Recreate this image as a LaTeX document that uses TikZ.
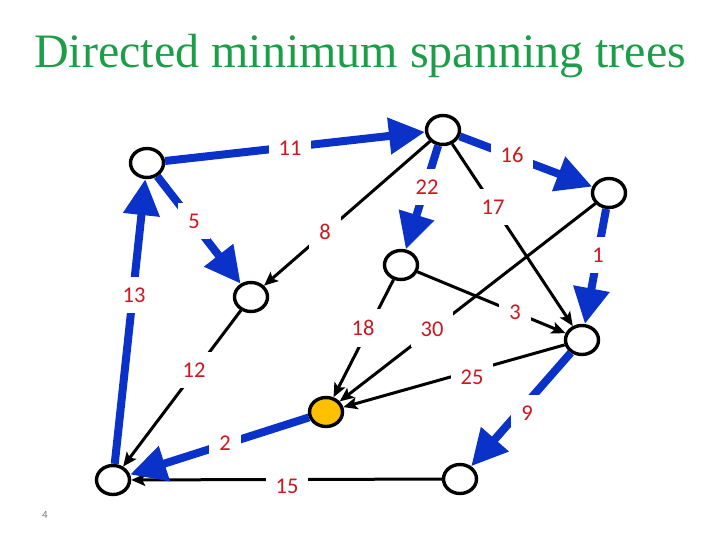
\documentclass[tikz,border=0pt]{standalone}
\usepackage{fontspec}
\setmainfont{Liberation Serif}
\newfontfamily\labfont{Carlito}
\usetikzlibrary{arrows.meta,shapes.geometric}
\definecolor{mstblue}{RGB}{10,50,200}
\definecolor{wtred}{RGB}{204,24,30}
\definecolor{titlegreen}{RGB}{28,158,72}
\definecolor{rootorange}{RGB}{255,192,0}
\definecolor{pagegrey}{RGB}{120,120,120}
\begin{document}
\begin{tikzpicture}[x=1pt,y=-1pt,
  vert/.style={ellipse,draw=black,line width=3.4pt,fill=white,minimum width=33pt,minimum height=29pt,inner sep=0pt},
  rootvert/.style={vert,fill=rootorange},
  tree/.style={draw=mstblue,line width=8pt,-{Triangle[length=36pt,width=35pt]}},
  cand/.style={draw=black,line width=3pt,-{Stealth[length=14pt,width=12pt,inset=3pt]}},
  wt/.style={fill=white,text=wtred,font=\labfont\fontsize{22.5}{22.5}\selectfont,inner xsep=10pt,inner ysep=11pt}]
\useasboundingbox (0,0) rectangle (720,540);
\node[anchor=base,text=titlegreen,font=\fontsize{48}{52}\selectfont,inner sep=0pt] (title) at (360,68) {Directed minimum spanning trees};
% vertices
\node[vert] (A) at (147,163) {};
\node[vert] (B) at (443,130) {};
\node[vert] (C) at (609,193) {};
\node[vert] (D) at (251,297) {};
\node[vert] (E) at (401,265) {};
\node[vert] (F) at (582,340) {};
\node[rootvert] (G) at (326,412) {};
\node[vert] (H) at (113,480) {};
\node[vert] (I) at (460,479) {};
% candidate edges
\draw[cand] (B) -- (D);
\draw[cand] (B) -- (F);
\draw[cand] (E) -- (F);
\draw[cand] (C) -- (G);
\draw[cand] (E) -- (G);
\draw[cand] (D) -- (H);
\draw[cand] (F) -- (G);
\draw[cand] (I) -- (H);
% tree edges
\draw[tree] (A) -- (B);
\draw[tree] (B) -- (C);
\draw[tree] (B) -- (E);
\draw[tree] (A) -- (D);
\draw[tree] (H) -- (A);
\draw[tree] (C) -- (F);
\draw[tree] (F) -- (I);
\draw[tree] (G) -- (H);
% weights
\node[wt] (w11) at (290,148) {11};
\node[wt] (w16) at (512,155) {16};
\node[wt] (w22) at (427,187) {22};
\node[wt] (w17) at (493,207) {17};
\node[wt] (w5) at (194,221) {5};
\node[wt] (w8) at (325,232) {8};
\node[wt] (w1) at (598,255) {1};
\node[wt] (w13) at (134,295) {13};
\node[wt] (w18) at (363,328) {18};
\node[wt] (w30) at (432,329) {30};
\node[wt] (w3) at (515,312) {3};
\node[wt] (w12) at (194,370) {12};
\node[wt] (w25) at (472,377) {25};
\node[wt] (w9) at (527,413) {9};
\node[wt] (w2) at (225,443) {2};
\node[wt] (w15) at (287,486) {15};
\node[text=pagegrey,font=\labfont\fontsize{11}{11}\selectfont,inner sep=0pt] (pagenum) at (45,515) {4};
\end{tikzpicture}
\end{document}
